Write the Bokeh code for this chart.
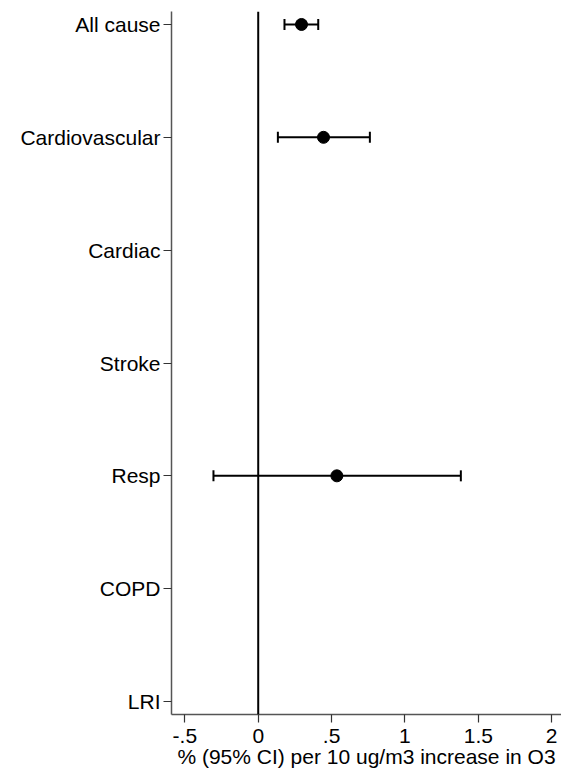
import numpy as np
from bokeh.plotting import figure
from bokeh.models import Range1d, FixedTicker, Whisker, TeeHead, ColumnDataSource, Span
from bokeh.embed import file_html
from bokeh.resources import INLINE

categories = ["All cause", "Cardiovascular", "Cardiac", "Stroke", "Resp", "COPD", "LRI"]
estimate = [0.295, 0.445, None, None, 0.536, None, None]
ci_lower = [0.179, 0.134, None, None, -0.305, None, None]
ci_upper = [0.409, 0.761, None, None, 1.381, None, None]
x_ticks = [-0.5, 0, 0.5, 1, 1.5, 2]
x_tick_labels = ["-.5", "0", ".5", "1", "1.5", "2"]
x_label = "% (95% CI) per 10 ug/m3 increase in O3"

pos = list(range(1, len(categories) + 1))
rows = [i for i, e in enumerate(estimate) if e is not None]
src = ColumnDataSource(dict(
    y=[pos[i] for i in rows],
    est=[estimate[i] for i in rows],
    lo=[ci_lower[i] for i in rows],
    hi=[ci_upper[i] for i in rows],
))

FONT = "Liberation Sans"

p = figure(frame_width=390, frame_height=703, output_backend="svg", toolbar_location=None,
           x_range=Range1d(-0.591, 2.067), y_range=Range1d(7.115, 0.885),
           min_border_left=171, min_border_right=0, min_border_top=11, min_border_bottom=58)
p.outline_line_color = None
p.xgrid.visible = False
p.ygrid.visible = False
p.background_fill_color = "white"
p.border_fill_color = "white"

# vertical reference line at 0
p.add_layout(Span(location=0, dimension="height", line_color="black", line_width=2))

w = Whisker(source=src, base="y", lower="lo", upper="hi", dimension="width",
            line_color="black", line_width=2,
            upper_head=TeeHead(size=11, line_color="black", line_width=2),
            lower_head=TeeHead(size=11, line_color="black", line_width=2))
p.add_layout(w)
p.scatter("est", "y", source=src, size=12, color="black")

p.yaxis.ticker = FixedTicker(ticks=pos)
p.yaxis.major_label_overrides = {pos[i]: categories[i] for i in range(len(categories))}
p.xaxis.ticker = FixedTicker(ticks=x_ticks)
p.xaxis.major_label_overrides = {t: l for t, l in zip(x_ticks, x_tick_labels)}
p.xaxis.axis_label = x_label

for ax in (p.xaxis, p.yaxis):
    ax.axis_line_color = "#555555"
    ax.axis_line_width = 1.5
    ax.major_tick_line_color = "#333333"
    ax.major_tick_line_width = 1.2
    ax.major_tick_out = 8
    ax.major_tick_in = 0
    ax.minor_tick_line_color = None
    ax.major_label_text_font = FONT
    ax.major_label_text_font_size = "21px"
    ax.major_label_text_color = "black"
    ax.axis_label_text_font = FONT
    ax.axis_label_text_font_size = "21px"
    ax.axis_label_text_font_style = "normal"
    ax.axis_label_text_color = "black"

p.yaxis.major_label_standoff = 3
p.xaxis.major_label_standoff = 6
p.xaxis.axis_label_standoff = -1

open("out.html", "w").write(file_html(p, INLINE))
